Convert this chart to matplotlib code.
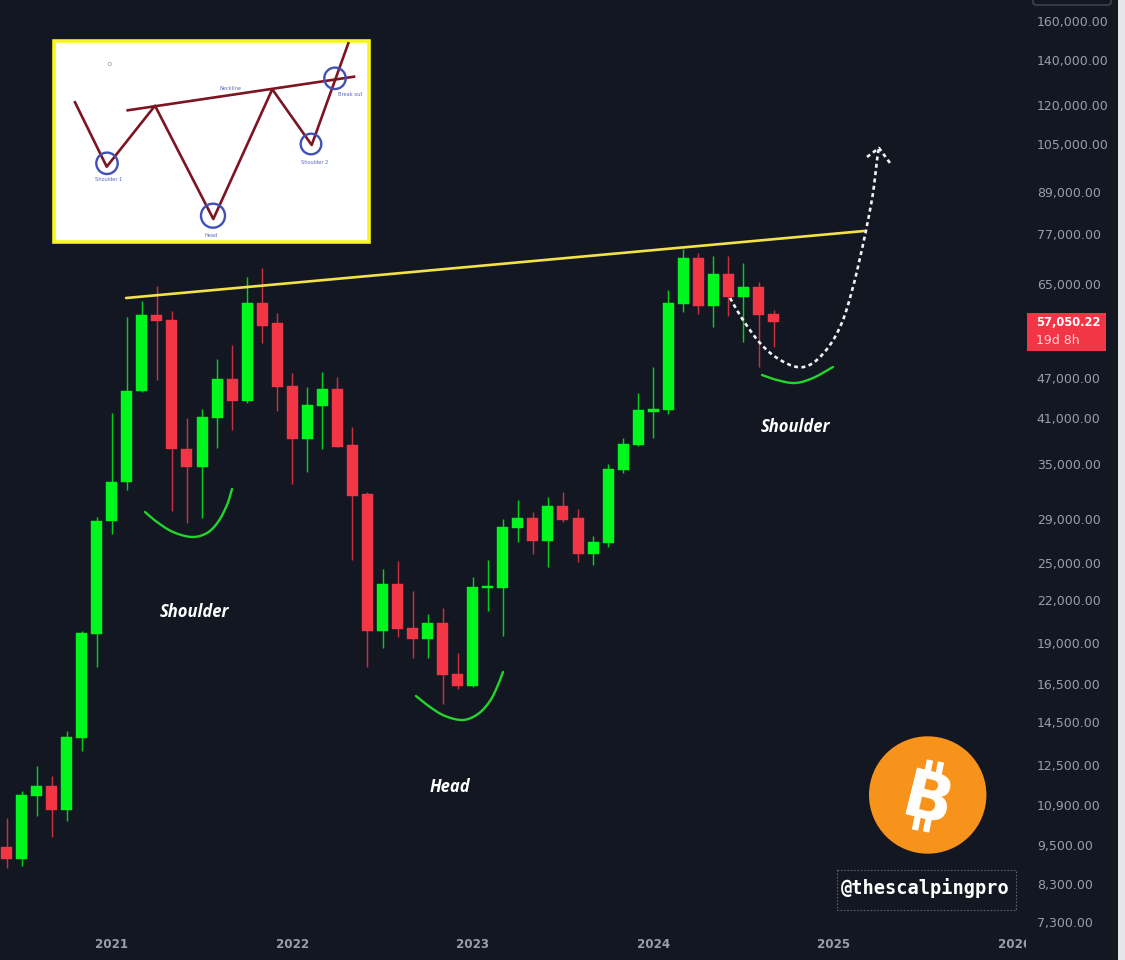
import numpy as np
import matplotlib
matplotlib.use("Agg")
import matplotlib.pyplot as plt
from matplotlib.patches import Rectangle, Circle, FancyBboxPatch
from matplotlib.transforms import Bbox

# ---------- data (monthly BTC candles, Jun 2020 onward) ----------
opens = [9425, 9045, 11240, 11620, 10710, 13700, 19578, 28850, 33000, 45000, 58420, 57400, 36950,
         34732, 41100, 46860, 43500, 60933, 56780, 45850, 38154, 42810, 45333, 37416, 31630, 19800,
         23237, 19964, 19246, 20350, 17070, 16382, 22960, 22960, 28153, 29104, 26927, 30356, 29104,
         25754, 26700, 34340, 37416, 41900, 42140, 60700, 70950, 60187, 67230, 62197, 64237, 58620]
highs = [10410, 11431, 12454, 12034, 14040, 19800, 29234, 41753, 57960, 61360, 64520, 59285, 41087,
         42330, 50240, 52710, 66607, 68555, 58763, 47836, 45690, 48050, 47280, 39755, 31880, 24488,
         25144, 22687, 20967, 21381, 18324, 23824, 25229, 29005, 30987, 29710, 31339, 31815, 30047,
         27391, 35020, 38285, 44763, 48833, 63650, 73245, 72320, 71504, 71504, 69745, 65344, 59428]
lows = [8770, 8850, 10492, 9754, 10314, 13125, 17501, 27580, 32070, 44800, 46750, 29842, 28640,
        29133, 37067, 39390, 43250, 53020, 42083, 32734, 34144, 36906, 37100, 25229, 17467, 18681,
        19397, 18051, 18013, 15402, 16197, 16300, 21205, 19465, 26835, 25754, 24607, 28770, 25083,
        24801, 26351, 33960, 37300, 38364, 41610, 58964, 58620, 56120, 58220, 53200, 48833, 52406]
closes = [9045, 11290, 11620, 10710, 13741, 19665, 28866, 32960, 45023, 58420, 57230, 36906, 34732,
          41225, 46860, 43508, 60933, 56315, 45690, 38154, 42956, 45333, 37197, 31450, 19800, 23237,
          19895, 19246, 20350, 17011, 16382, 23023, 23040, 28277, 29104, 26927, 30356, 28965, 25754,
          26835, 34462, 37542, 42140, 42286, 60870, 70950, 60187, 67230, 62197, 64237, 58478, 57050.22]

y_ticks = [160000, 140000, 120000, 105000, 89000, 77000, 65000, 47000, 41000, 35000, 29000, 25000,
           22000, 19000, 16500, 14500, 12500, 10900, 9500, 8300, 7300]
year_labels = ["2021", "2022", "2023", "2024", "2025", "2026"]
year_pos = [7, 19, 31, 43, 55, 67]
neck_x = [7.95, 57.0]
neck_y = [61920, 77900]

BG = "#131722"
GREEN = "#00f71e"
RED = "#f23645"
AXC = "#9a9ea8"
W, H = 1125, 960

plt.rcParams["font.family"] = ["DejaVu Sans"]
fig = plt.figure(figsize=(W / 100, H / 100), dpi=100, facecolor="#e6e6e8")

# background panel (dark), thin light strip stays on the right
fig.patches.append(Rectangle((0, 0), 1118 / W, 1, transform=fig.transFigure, facecolor=BG, edgecolor="none", zorder=-5))

AX_R = 1028
AX_B = 932
ax = fig.add_axes([0, 1 - AX_B / H, AX_R / W, AX_B / H])
ax.patch.set_alpha(0)
for s in ax.spines.values():
    s.set_visible(False)
ax.set_yscale("log")
ax.set_ylim(160000 * np.exp(-(AX_B - 21) / 291.8), 160000 * np.exp(21 / 291.8))
ax.set_xlim(-6.5 / 15.04, (AX_R - 6.5) / 15.04)

xs = np.arange(len(opens))
for i in xs:
    o, h, l, c = opens[i], highs[i], lows[i], closes[i]
    col = GREEN if c >= o else RED
    ax.vlines(i, l, h, color=col, lw=1.05, alpha=0.82, zorder=2)
    ax.bar(i, abs(c - o), bottom=min(o, c), width=11 / 15.04, color=col, edgecolor=col, lw=0.3, zorder=3)

ax.plot(neck_x, neck_y, color="#f2e34a", lw=1.9, zorder=4, solid_capstyle="round")

ax.set_yticks(y_ticks)
ax.set_yticklabels([f"{v:,.2f}" for v in y_ticks], color=AXC, fontsize=9)
ax.minorticks_off()
ax.yaxis.tick_right()
ax.tick_params(axis="y", length=0, pad=6.3)
ax.set_xticks(year_pos)
ax.set_xticklabels(year_labels, color=AXC, fontsize=8.6, fontweight="bold")
ax.tick_params(axis="x", length=0, pad=4.5)
for lab in ax.get_yticklabels():
    lab.set_clip_on(False)
clip_w = 1026
for lab in ax.get_xticklabels():
    lab.set_clip_box(Bbox([[0, 0], [clip_w, H]]))
    lab.set_clip_on(True)

# ---------- overlay in pixel space: drawings, inset, logo ----------
ov = fig.add_axes([0, 0, 1, 1])
ov.set_xlim(0, W)
ov.set_ylim(H, 0)
ov.axis("off")
ov.patch.set_alpha(0)


def smooth(pts, n=24):
    p = np.array(pts, float)
    p = np.vstack([2 * p[0] - p[1], p, 2 * p[-1] - p[-2]])
    out = []
    for k in range(1, len(p) - 2):
        t = np.linspace(0, 1, n, endpoint=False)[:, None]
        a, b, c, d = p[k - 1], p[k], p[k + 1], p[k + 2]
        out.append(0.5 * (2 * b + (c - a) * t + (2 * a - 5 * b + 4 * c - d) * t ** 2 + (3 * b - a - 3 * c + d) * t ** 3))
    out.append(p[-2][None, :])
    return np.vstack(out)


CURVE = "#22d62c"
for pts in (
    [(145, 512), (157, 522), (173, 532), (192, 537), (207, 533), (218, 522), (227, 505), (232, 489)],
    [(416, 696), (430, 707), (445, 716), (463, 720), (478, 714), (490, 701), (498, 685), (503, 672)],
    [(762, 375), (777, 380), (795, 383), (813, 378), (833, 367)],
):
    s = smooth(pts)
    ov.plot(s[:, 0], s[:, 1], color=CURVE, lw=1.7, solid_capstyle="round", zorder=5)

dash = smooth([(730, 298), (743, 320), (760, 343), (777, 358), (797, 367), (813, 363), (830, 345), (843, 320),
               (853, 287), (860, 258), (866.7, 227), (873, 193), (877, 160), (879, 148)])
ov.plot(dash[:, 0], dash[:, 1], color="#f2f2f2", lw=1.9, linestyle=(0, (1.5, 1.3)), zorder=6)
ov.plot([867, 879, 890], [157, 148, 163], color="#f2f2f2", lw=1.9, linestyle=(0, (1.5, 1.3)), zorder=6)

for t, x, y in [("Shoulder", 194, 612), ("Head", 450, 787), ("Shoulder", 795, 427)]:
    ov.text(x, y, t, color="white", fontsize=12, fontweight="bold", fontstyle="italic", family="Open Sans",
            ha="center", va="center", zorder=6)

# price tag
ov.add_patch(Rectangle((1027, 313), 79, 38, facecolor=RED, edgecolor="none", zorder=6))
ov.text(1036, 323, "57,050.22", color="white", fontsize=8.3, fontweight="bold", ha="left", va="center", zorder=7)
ov.text(1036, 341, "19d 8h", color="#ffd5d8", fontsize=9, ha="left", va="center", zorder=7)

# top-right clipped control outline
ov.add_patch(FancyBboxPatch((1033, -12), 78, 17, boxstyle="round,pad=0,rounding_size=3", facecolor="none",
                            edgecolor="#3d414c", lw=1.2, zorder=3))

# inset
ov.add_patch(Rectangle((54, 41), 314.5, 201, facecolor="white", edgecolor="#f7f71e", lw=2.6, zorder=6))
MAR = "#7d1422"
ov.plot([75, 106.7, 155, 213.3, 272.3, 311.7, 348.3], [102.3, 166.7, 105.7, 219, 89.3, 145, 43.3],
        color=MAR, lw=1.9, zorder=7)
ov.plot([127.7, 354], [110.3, 76.7], color=MAR, lw=1.9, zorder=7)
for cx, cy, r in [(107, 163.3, 10.7), (213, 215.7, 12), (311, 144, 10.3), (335, 78.3, 10.7)]:
    ov.add_patch(Circle((cx, cy), r, facecolor="none", edgecolor="#4150b4", lw=1.7, zorder=8))
for t, x, y in [("Neckline", 231, 88.3), ("Shoulder 1", 109, 179.7), ("Head", 211, 235.3), ("Shoulder 2", 315, 162.3),
                ("Break out", 349.7, 94.7), ("D", 109, 64.3)]:
    ov.text(x, y, t, color="#5a66bb" if t != "D" else "#666a80", fontsize=3.6, ha="center", va="center", zorder=8)

# bitcoin logo
ov.add_patch(Circle((927.7, 795), 58.7, facecolor="#f7931a", edgecolor="none", zorder=6))
ov.text(927, 803, "B", color="white", fontsize=47, fontweight="bold", rotation=-14, ha="center", va="center",
        family="DejaVu Sans", zorder=7)
for (x0, y0, x1, y1) in [(930, 760, 927, 775), (941, 762, 938, 777), (918, 815, 915, 830), (929, 817, 926, 832)]:
    ov.plot([x0, x1], [y0, y1], color="white", lw=4.6, solid_capstyle="butt", zorder=7)

# watermark
ov.add_patch(Rectangle((837, 870), 178.5, 40, facecolor="none", edgecolor="#5d616c", lw=0.8, linestyle=(0, (1.5, 1.5)), zorder=6))
ov.text(925, 888, "@thescalpingpro", color="white", fontsize=13.4, fontweight="bold", family="DejaVu Sans Mono",
        ha="center", va="center", zorder=7)

fig.savefig("out.png", dpi=100, facecolor=fig.get_facecolor())
